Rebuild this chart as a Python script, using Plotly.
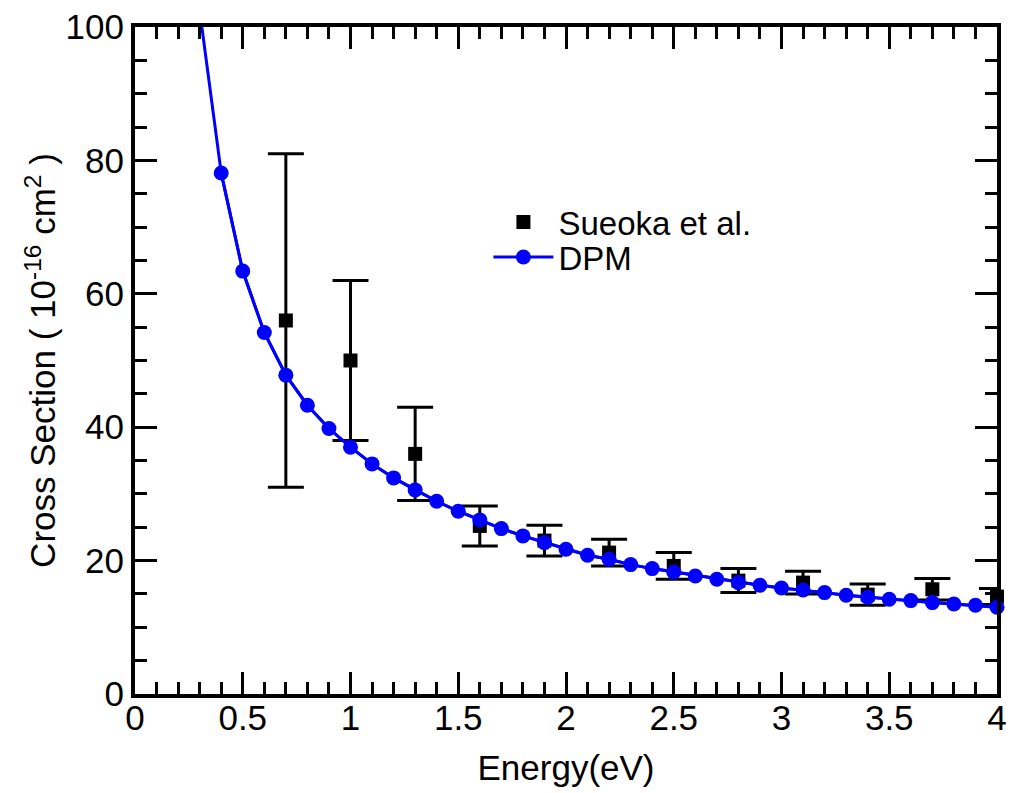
import plotly.graph_objects as go

# DPM theory curve
dpm_energy = [0.3, 0.4, 0.5, 0.6, 0.7, 0.8, 0.9, 1.0, 1.1, 1.2, 1.3, 1.4, 1.5, 1.6, 1.7,
              1.8, 1.9, 2.0, 2.1, 2.2, 2.3, 2.4, 2.5, 2.6, 2.7, 2.8, 2.9, 3.0, 3.1, 3.2,
              3.3, 3.4, 3.5, 3.6, 3.7, 3.8, 3.9, 4.0]
dpm_cross = [102.5, 78.1, 63.4, 54.2, 47.8, 43.3, 39.8, 37.0, 34.5, 32.4, 30.6, 28.9, 27.4,
             26.1, 24.8, 23.7, 22.7, 21.7, 20.8, 20.2, 19.4, 18.8, 18.3, 17.7, 17.2, 16.7,
             16.3, 15.9, 15.6, 15.2, 14.8, 14.5, 14.2, 14.0, 13.7, 13.5, 13.3, 13.0]

# Sueoka et al. experiment
exp_energy = [0.7, 1.0, 1.3, 1.6, 1.9, 2.2, 2.5, 2.8, 3.1, 3.4, 3.7, 4.0]
exp_cross = [56.0, 50.0, 36.0, 25.2, 23.0, 21.2, 19.2, 17.0, 16.7, 14.9, 15.7, 14.6]
exp_err = [25.0, 12.0, 7.0, 3.0, 2.3, 2.0, 2.0, 1.8, 1.7, 1.6, 1.6, 1.2]

FONT = "Liberation Sans, Arial, sans-serif"
BLUE = "#0000ff"

fig = go.Figure()

fig.add_trace(go.Scatter(
    x=exp_energy, y=exp_cross, mode="markers", name="Sueoka et al.",
    marker=dict(symbol="square", size=14, color="black"),
    error_y=dict(type="data", array=exp_err, visible=True, color="black",
                 thickness=3, width=18),
    cliponaxis=False, legend="legend",
))

# line continuing above the plot top (clipped)
fig.add_trace(go.Scatter(
    x=dpm_energy, y=dpm_cross, mode="lines", showlegend=False,
    line=dict(color=BLUE, width=3), hoverinfo="skip",
))

fig.add_trace(go.Scatter(
    x=dpm_energy[1:], y=dpm_cross[1:], mode="lines+markers", name="DPM",
    line=dict(color=BLUE, width=3),
    marker=dict(symbol="circle", size=15, color=BLUE),
    cliponaxis=False, legend="legend2",
))

axis_common = dict(
    showline=True, linecolor="black", linewidth=4, mirror="allticks",
    ticks="inside", ticklen=22, tickwidth=3, tickcolor="black",
    showgrid=False, zeroline=False, automargin=False,
    tickfont=dict(family=FONT, size=35, color="black"),
)

fig.update_xaxes(
    range=[0, 4], dtick=0.5, tick0=0, ticklabelstandoff=-10,
    minor=dict(dtick=0.1, ticks="inside", ticklen=12, tickwidth=2.5, tickcolor="black"),
    title=dict(text="Energy(eV)", font=dict(family=FONT, size=35, color="black"), standoff=20),
    **axis_common,
)
fig.update_yaxes(
    range=[0, 100], dtick=20, tick0=0,
    minor=dict(dtick=5, ticks="inside", ticklen=12, tickwidth=2.5, tickcolor="black"),
    title=dict(text="Cross Section ( 10<sup>-16</sup> cm<sup>2</sup> )",
               font=dict(family=FONT, size=35, color="black"), standoff=0),
    **axis_common,
)

legend_common = dict(xanchor="left", yanchor="middle", bgcolor="rgba(0,0,0,0)",
                     font=dict(family=FONT, size=33, color="black"), itemwidth=60)

fig.update_layout(
    width=1012, height=793,
    margin=dict(l=135, r=15, t=27, b=99),
    plot_bgcolor="white", paper_bgcolor="white",
    font=dict(family=FONT, size=35, color="black"),
    showlegend=True,
    legend=dict(x=0.41, y=0.7076, **legend_common),
    legend2=dict(x=0.41, y=0.655, **legend_common),
)

fig.write_html("out.html")
